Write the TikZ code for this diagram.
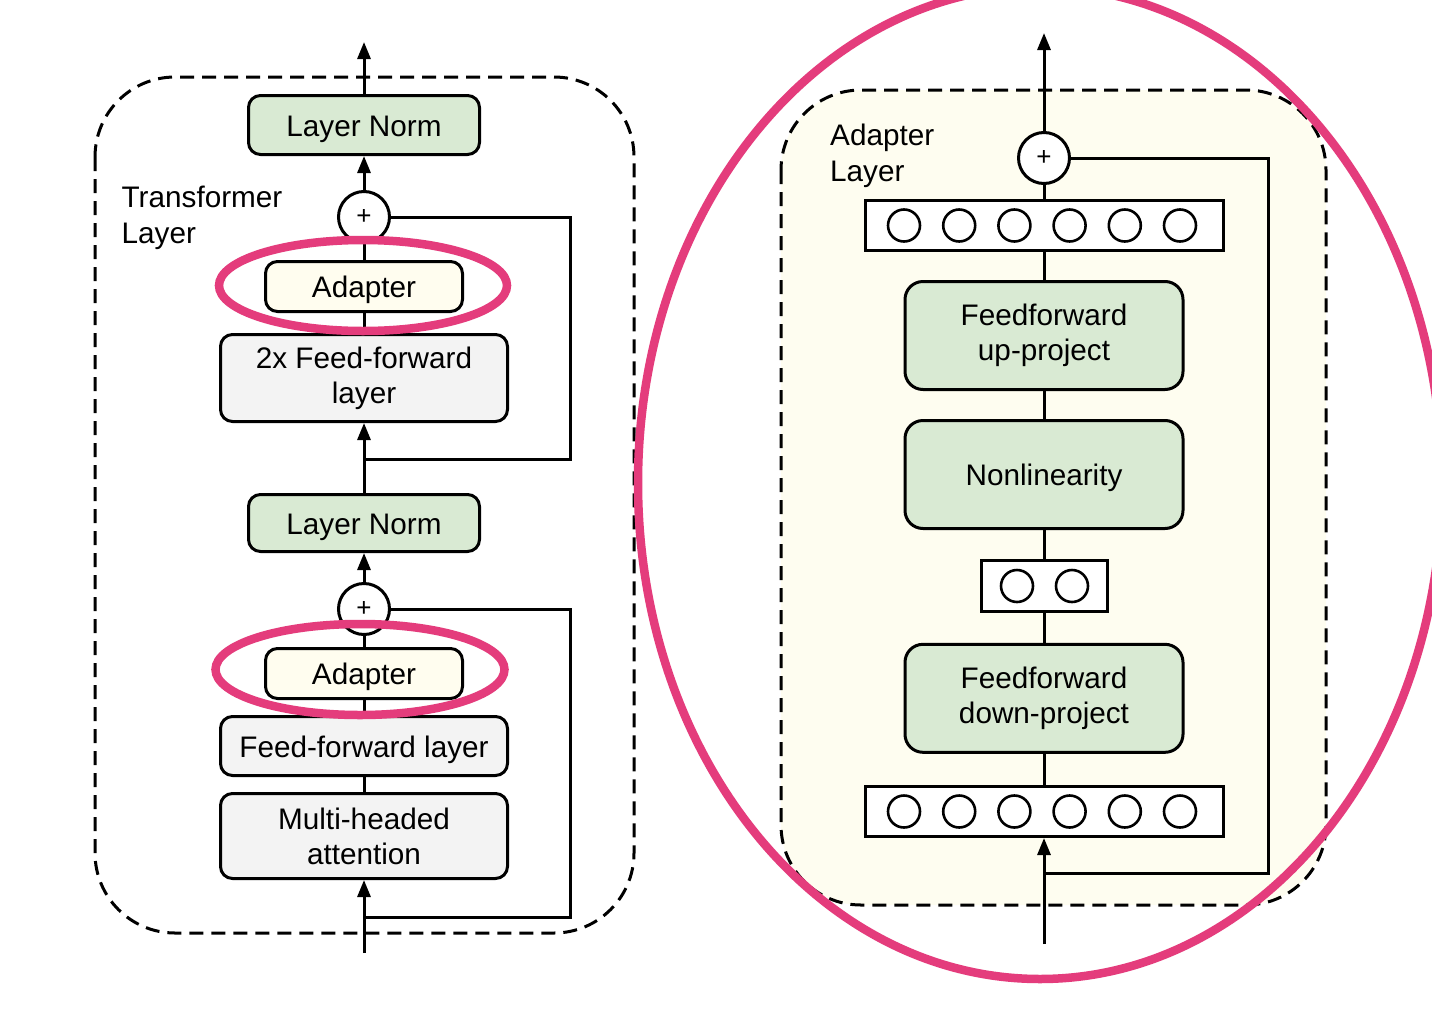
\documentclass[tikz,border=0pt]{standalone}
\usepackage{fontspec}
\setmainfont{Liberation Sans}
\usetikzlibrary{arrows.meta}
\definecolor{lngreen}{HTML}{D9EAD3}
\definecolor{boxgray}{HTML}{F3F3F3}
\definecolor{adcream}{HTML}{FFFDEF}
\definecolor{bgcream}{HTML}{FEFDF0}
\definecolor{hlpink}{HTML}{E43C7C}
\begin{document}
\begin{tikzpicture}[x=1pt,y=-1pt,
  every node/.style={font=\fontsize{29.7}{35}\selectfont},
  blk/.style={draw=black, line width=3pt, rounded corners=12pt, inner sep=0pt, align=center},
  oneline/.style={text height=22pt, text depth=0pt},
  normbox/.style={blk, oneline, fill=lngreen, minimum width=231pt, minimum height=59pt},
  adbox/.style={blk, oneline, fill=adcream, minimum width=197pt, minimum height=50pt},
  graybox/.style={blk, fill=boxgray, minimum width=287pt},
  projbox/.style={blk, fill=lngreen, rounded corners=18pt, minimum width=278pt, minimum height=108pt},
  rowbox/.style={draw=black, line width=3pt, fill=white, inner sep=0pt, minimum height=50pt},
  unit/.style={circle, draw=black, line width=2.6pt, fill=white, inner sep=0pt, minimum size=32pt},
  plusnode/.style={circle, draw=black, line width=3pt, fill=white, inner sep=0pt, minimum size=51pt, font=\fontsize{26}{30}\selectfont},
  panel/.style={draw=black, line width=3pt, dash pattern=on 14pt off 8pt, rounded corners=80pt},
  conn/.style={draw=black, line width=3pt},
  arr/.style={conn, -{Triangle[length=17pt,width=13pt]}},
  hl/.style={draw=hlpink, line width=8.5pt},
  caption/.style={anchor=north west, inner sep=0pt, align=left, font=\fontsize{29.7}{36}\selectfont}
]
\useasboundingbox (0,0) rectangle (1432,1020);
\clip (0,0) rectangle (1432,1020);
\fill[white] (0,0) rectangle (1432,1020);

% ---------------- left panel ----------------
\draw[panel] (95,77) rectangle (634,933);
\node[caption] (tlabel) at (121.5,186) {Transformer\\Layer};

\node[normbox] (ln1) at (364,125) {Layer Norm};
\node[plusnode] (plus1) at (364,217) {+};
\node[adbox] (ad1) at (364,286.5) {Adapter};
\node[graybox, minimum height=87pt] (ff2) at (364,378) {2x Feed-forward\\layer};
\coordinate (j1) at (364,459);
\node[normbox, minimum height=57pt] (ln2) at (364,523) {Layer Norm};
\node[plusnode] (plus2) at (364,609) {+};
\node[adbox] (ad2) at (364,673.5) {Adapter};
\node[graybox, oneline, minimum height=59pt] (ffl) at (364,746) {Feed-forward layer};
\node[graybox, minimum height=85pt] (mha) at (364,836) {Multi-headed\\attention};
\coordinate (j2) at (364,917);
\coordinate (ltop) at (364,42);
\coordinate (lin) at (364,953);

\draw[arr] (ln1.north) -- (ltop);
\draw[arr] (plus1.north) -- (ln1.south);
\draw[conn] (ad1.north) -- (plus1.south);
\draw[conn] (ff2.north) -- (ad1.south);
\draw[arr] (ln2.north) -- (ff2.south);
\draw[conn] (plus1.east) -- (570,217) -- (570,459) -- (j1);
\draw[arr] (plus2.north) -- (ln2.south);
\draw[conn] (ad2.north) -- (plus2.south);
\draw[conn] (ffl.north) -- (ad2.south);
\draw[conn] (mha.north) -- (ffl.south);
\draw[arr] (lin) -- (mha.south);
\draw[conn] (plus2.east) -- (570,609) -- (570,917) -- (j2);

% ---------------- right panel ----------------
\draw[panel, fill=bgcream] (781,90) rectangle (1326,905);
\node[caption] (alabel) at (830,124) {Adapter\\Layer};

\node[plusnode] (rplus) at (1044,158) {+};
\node[rowbox, minimum width=358pt] (rowt) at (1044.5,225.5) {};
\foreach \i in {1,...,6} {
  \node[unit] (ut\i) at ({1042+(\i-3.5)*55.2},225.5) {};
}
\node[projbox] (ffup) at (1044,335.5) {Feedforward\\up-project};
\node[projbox, oneline] (nonlin) at (1044,474.5) {Nonlinearity};
\node[rowbox, minimum width=126pt, minimum height=51pt] (rowm) at (1044.5,586) {};
\node[unit] (um1) at (1017,586) {};
\node[unit] (um2) at (1072,586) {};
\node[projbox] (ffdown) at (1044,698.3) {Feedforward\\down-project};
\node[rowbox, minimum width=358pt] (rowb) at (1044.5,811.5) {};
\foreach \i in {1,...,6} {
  \node[unit] (ub\i) at ({1042+(\i-3.5)*55.2},811.5) {};
}
\coordinate (j3) at (1044,873);
\coordinate (rtop) at (1044,33);
\coordinate (rin) at (1044,944);

\draw[arr] (rplus.north) -- (rtop);
\draw[conn] (rowt.north -| rplus) -- (rplus.south);
\draw[conn] (ffup.north) -- (rowt.south -| ffup);
\draw[conn] (nonlin.north) -- (ffup.south);
\draw[conn] (rowm.north -| nonlin) -- (nonlin.south);
\draw[conn] (ffdown.north) -- (rowm.south -| ffdown);
\draw[conn] (rowb.north -| ffdown) -- (ffdown.south);
\draw[arr] (rin) -- (rowb.south -| rin);
\draw[conn] (rplus.east) -- (1268,158) -- (1268,873) -- (j3);

% ---------------- highlights ----------------
\draw[hl] (363,285.5) ellipse [x radius=144, y radius=45.5];
\draw[hl] (360,669.5) ellipse [x radius=144.5, y radius=45.5];
\draw[hl] (1040,483) ellipse [x radius=402, y radius=496];
\end{tikzpicture}
\end{document}
